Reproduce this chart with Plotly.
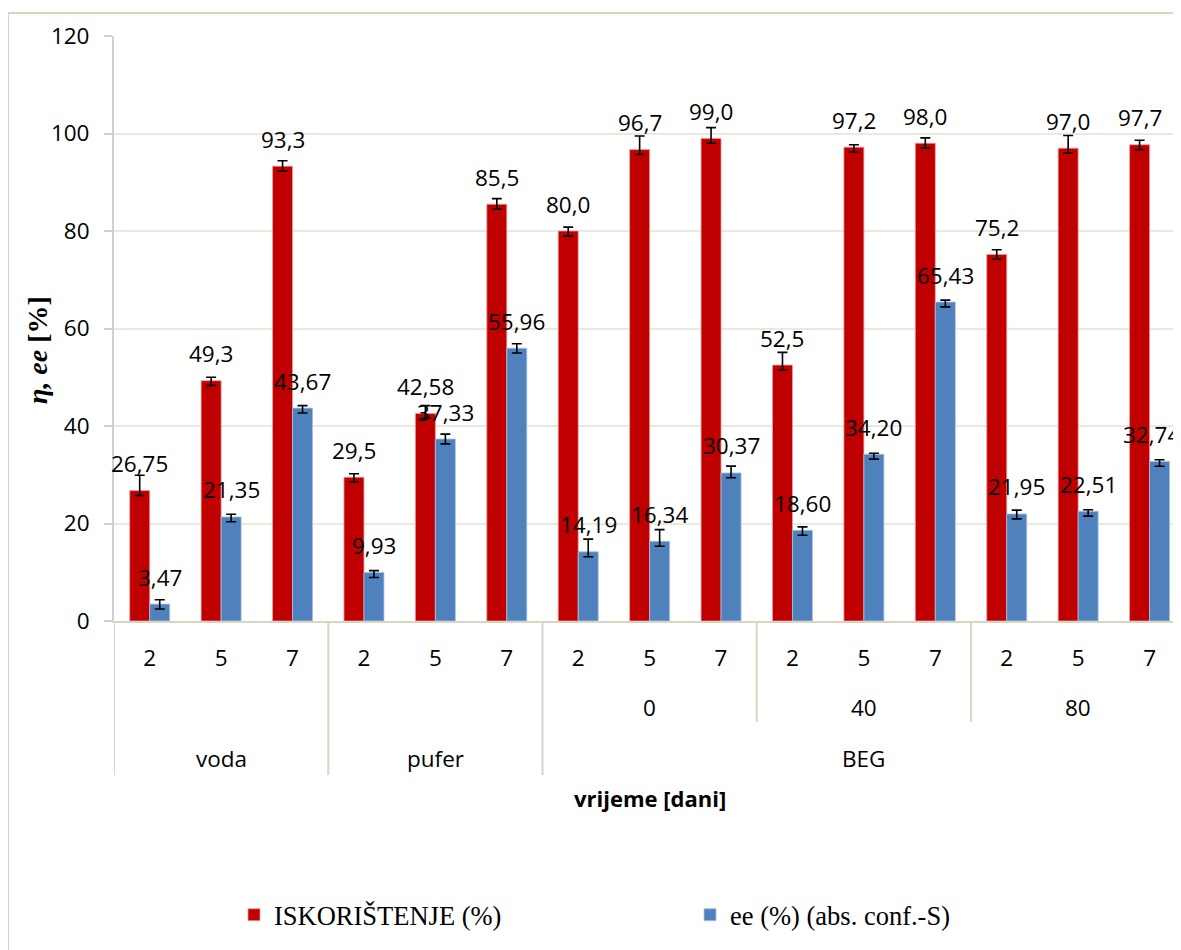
import plotly.graph_objects as go

# ---------------- data ----------------
days = ["2", "5", "7"] * 5
sub_groups = ["", "", "0", "40", "80"]
top_labels = ["voda", "pufer", "BEG"]

iskoristenje = [26.75, 49.3, 93.3, 29.5, 42.58, 85.5, 80.0, 96.7, 99.0, 52.5, 97.2, 98.0, 75.2, 97.0, 97.7]
iskoristenje_txt = ["26,75", "49,3", "93,3", "29,5", "42,58", "85,5", "80,0", "96,7", "99,0",
                    "52,5", "97,2", "98,0", "75,2", "97,0", "97,7"]
isk_err_plus = [3.15, 0.7, 1.1, 0.7, 1.6, 1.15, 0.8, 2.8, 2.2, 2.6, 0.5, 1.1, 0.95, 2.6, 0.9]
isk_err_minus = [1.0] * 15

ee = [3.47, 21.35, 43.67, 9.93, 37.33, 55.96, 14.19, 16.34, 30.37, 18.60, 34.20, 65.43, 21.95, 22.51, 32.74]
ee_txt = ["3,47", "21,35", "43,67", "9,93", "37,33", "55,96", "14,19", "16,34", "30,37",
          "18,60", "34,20", "65,43", "21,95", "22,51", "32,74"]
ee_err_plus = [0.9, 0.55, 0.5, 0.4, 1.0, 0.9, 2.6, 2.4, 1.4, 0.7, 0.2, 0.4, 0.8, 0.3, 0.35]
ee_err_minus = [1.0] * 15

x = list(range(len(days)))

RED = "#C00000"
BLUE = "#4F81BD"
GRID = "#ECE9DC"
FRAME = "#D9D5C3"
LABEL_FONT = "Open Sans"
SERIF = "Liberation Serif"
FS = 22.5

# page has an 8px body margin; plot area in page px: x 114..1181, y 36..621
OFFSET = 8
L, T = 114, 36
PW = 1181 - L
PH = 621 - T
FIG_W = 1181 - OFFSET
FIG_H = 950 - OFFSET

def py(px):
    return (621 - px) / PH

def pxx(px):
    return (px - L) / PW

fig = go.Figure()
fig.add_trace(go.Bar(
    x=x, y=iskoristenje, name="ISKORIŠTENJE (%)",
    marker=dict(color=RED, line=dict(color="#E8A0A0", width=0.8)),
    error_y=dict(type="data", symmetric=False, array=isk_err_plus, arrayminus=isk_err_minus,
                 color="black", thickness=1.6, width=5),
    legend="legend",
))
fig.add_trace(go.Bar(
    x=x, y=ee, name="ee (%) (abs. conf.-S)",
    marker=dict(color=BLUE, line=dict(color="#A9C2E2", width=0.8)),
    error_y=dict(type="data", symmetric=False, array=ee_err_plus, arrayminus=ee_err_minus,
                 color="black", thickness=1.6, width=5),
    legend="legend2",
))

annotations = []
off = 0.14
for i in x:
    annotations.append(dict(x=i - off, y=iskoristenje[i], xref="x", yref="y", text=iskoristenje_txt[i],
                            showarrow=False, yshift=27, font=dict(family=LABEL_FONT, size=FS, color="black")))
for i in x:
    annotations.append(dict(x=i + off, y=ee[i], xref="x", yref="y", text=ee_txt[i],
                            showarrow=False, yshift=27, xshift=(-8 if i == x[-1] else 0),
                            font=dict(family=LABEL_FONT, size=FS, color="black")))

for g, lab in enumerate(sub_groups):
    if lab:
        annotations.append(dict(x=3 * g + 1, y=py(707), xref="x", yref="paper", text=lab,
                                showarrow=False, yanchor="middle",
                                font=dict(family=LABEL_FONT, size=FS, color="black")))
for xpos, lab in zip([1, 4, 10], top_labels):
    annotations.append(dict(x=xpos, y=py(758), xref="x", yref="paper", text=lab,
                            showarrow=False, yanchor="middle",
                            font=dict(family=LABEL_FONT, size=FS, color="black")))
annotations.append(dict(x=pxx(650), y=py(798), xref="paper", yref="paper", text="<b>vrijeme [dani]</b>",
                        showarrow=False, xanchor="center", yanchor="middle",
                        font=dict(family=LABEL_FONT, size=22, color="black")))
annotations.append(dict(x=pxx(37), y=py(350), xref="paper", yref="paper",
                        text="<b><i>η, ee</i> [%]</b>", textangle=-90, showarrow=False,
                        xanchor="center", yanchor="middle",
                        font=dict(family=SERIF, size=28, color="black")))

shapes = []
for xb, bottom in [(-0.5, 775), (2.5, 775), (5.5, 775), (8.5, 722), (11.5, 722)]:
    shapes.append(dict(type="line", xref="x", yref="paper", x0=xb, x1=xb, y0=0, y1=py(bottom),
                       line=dict(color=FRAME, width=2)))
shapes.append(dict(type="rect", xref="paper", yref="paper",
                   x0=pxx(8), x1=1.2, y0=py(1000), y1=py(13),
                   line=dict(color=FRAME, width=2), fillcolor="rgba(0,0,0,0)", layer="below"))

fig.update_layout(
    width=FIG_W, height=FIG_H,
    margin=dict(l=L - OFFSET, r=0, t=T - OFFSET, b=FIG_H - (621 - OFFSET), pad=0),
    paper_bgcolor="white", plot_bgcolor="white",
    barmode="group", bargap=0.44, bargroupgap=0,
    xaxis=dict(range=[-0.5, 14.44], tickmode="array", tickvals=x, ticktext=days,
               showgrid=False, zeroline=False, showline=True, linecolor=FRAME, linewidth=2,
               ticks="", ticklabelstandoff=16,
               tickfont=dict(family=LABEL_FONT, size=FS, color="black")),
    yaxis=dict(range=[0, 120], tickvals=[0, 20, 40, 60, 80, 100, 120],
               showgrid=True, gridcolor=GRID, gridwidth=2, zeroline=False,
               showline=True, linecolor="#D0D0D0", linewidth=2,
               ticks="outside", ticklen=8, tickcolor="#D0D0D0", tickwidth=2,
               ticklabelstandoff=10,
               tickfont=dict(family=LABEL_FONT, size=FS, color="black")),
    annotations=annotations,
    shapes=shapes,
    legend=dict(x=pxx(234), y=py(915), xanchor="left", yanchor="middle",
                orientation="h", bgcolor="rgba(0,0,0,0)", itemwidth=30,
                font=dict(family=SERIF, size=26.5, color="black")),
    legend2=dict(x=pxx(690), y=py(915), xanchor="left", yanchor="middle",
                 orientation="h", bgcolor="rgba(0,0,0,0)", itemwidth=30,
                 font=dict(family=SERIF, size=26.5, color="black")),
    showlegend=True,
)

fig.write_html("out.html")
